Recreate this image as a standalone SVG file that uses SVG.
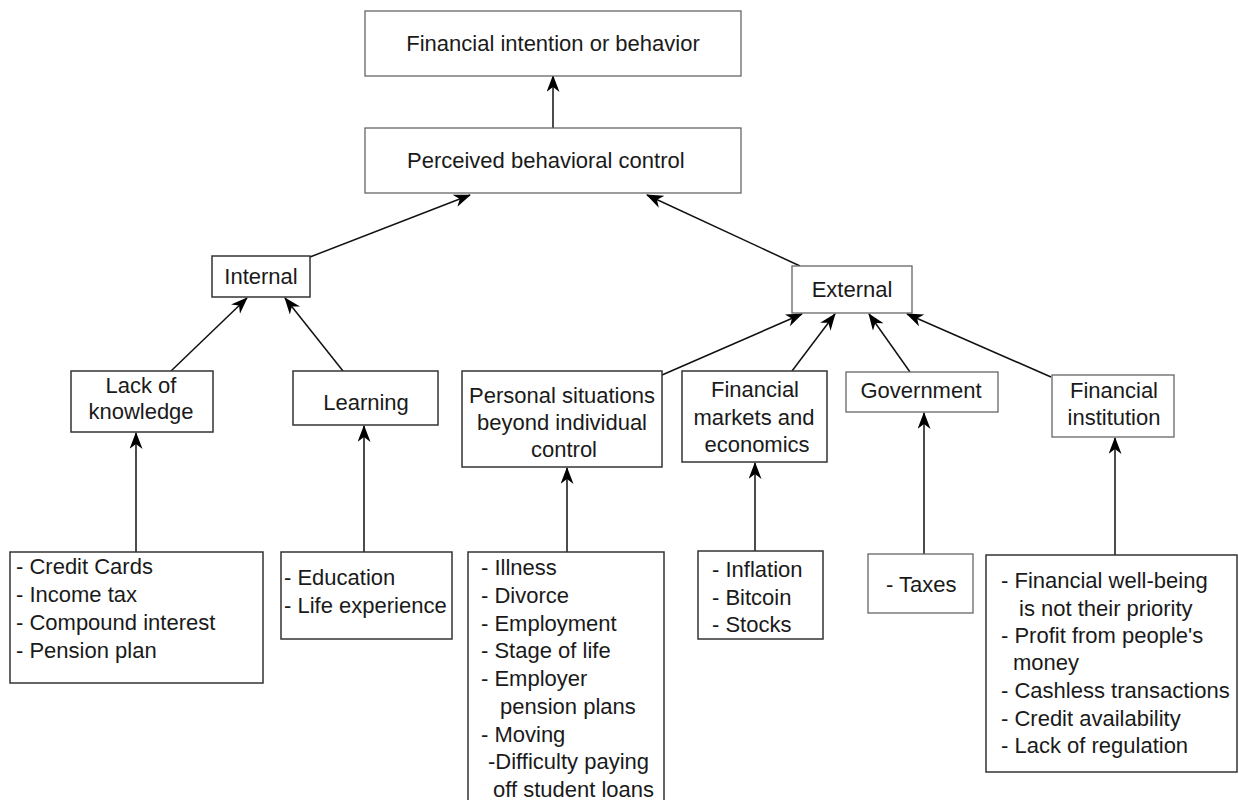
<svg xmlns="http://www.w3.org/2000/svg" width="1239" height="800" viewBox="0 0 1239 800">
<defs>
<marker id="ah" markerUnits="userSpaceOnUse" markerWidth="18" markerHeight="14" refX="16" refY="6.5" orient="auto">
<path d="M0,0 L17,6.5 L0,13 L5,6.5 z" fill="#000"/>
</marker>
<style>
.box{fill:#fff;stroke:#333;stroke-width:1.5}
.lbox{fill:#fff;stroke:#666;stroke-width:1.3}
text{font-family:"Liberation Sans",Arial,sans-serif;font-size:22px;fill:#1a1a1a}
.c{text-anchor:middle}
.edge{stroke:#111;stroke-width:1.5;fill:none;marker-end:url(#ah)}
</style>
</defs>
<rect width="1239" height="800" fill="#fff"/>
<g id="connectors">
<line class="edge" x1="553" y1="128" x2="553" y2="76"/>
<line class="edge" x1="310" y1="257" x2="470" y2="195"/>
<line class="edge" x1="800" y1="266" x2="647" y2="195"/>
<line class="edge" x1="171" y1="371" x2="247" y2="298"/>
<line class="edge" x1="343" y1="371" x2="285" y2="298"/>
<line class="edge" x1="662" y1="375" x2="802" y2="314"/>
<line class="edge" x1="792" y1="371" x2="835" y2="314"/>
<line class="edge" x1="910" y1="372" x2="869" y2="314"/>
<line class="edge" x1="1051" y1="377" x2="907" y2="314"/>
<line class="edge" x1="136" y1="552" x2="136" y2="433"/>
<line class="edge" x1="364" y1="552" x2="364" y2="426"/>
<line class="edge" x1="567" y1="552" x2="567" y2="468"/>
<line class="edge" x1="755" y1="551" x2="755" y2="463"/>
<line class="edge" x1="924" y1="554" x2="924" y2="413"/>
<line class="edge" x1="1115" y1="555" x2="1115" y2="438"/>
</g>
<g id="intention">
<rect class="lbox" x="365" y="11" width="376" height="65"/>
<text class="c" x="553" y="51">Financial intention or behavior</text>
</g>
<g id="pbc">
<rect class="lbox" x="365" y="128" width="376" height="65"/>
<text x="407" y="168">Perceived behavioral control</text>
</g>
<g id="internal">
<rect class="box" x="212" y="256" width="98" height="41"/>
<text class="c" x="261" y="284">Internal</text>
</g>
<g id="external">
<rect class="lbox" x="792" y="266" width="120" height="47"/>
<text class="c" x="852" y="297">External</text>
</g>
<g id="lack">
<rect class="box" x="71" y="371" width="142" height="61"/>
<text class="c" x="141" y="393">Lack of</text>
<text class="c" x="141" y="419">knowledge</text>
</g>
<g id="learning">
<rect class="box" x="293" y="371" width="145" height="54"/>
<text class="c" x="366" y="410">Learning</text>
</g>
<g id="personal">
<rect class="box" x="462" y="371" width="200" height="96"/>
<text class="c" x="562" y="403">Personal situations</text>
<text class="c" x="562" y="430">beyond individual</text>
<text class="c" x="564" y="457">control</text>
</g>
<g id="markets">
<rect class="box" x="682" y="371" width="145" height="91"/>
<text class="c" x="755" y="397">Financial</text>
<text class="c" x="754" y="425">markets and</text>
<text class="c" x="757" y="452">economics</text>
</g>
<g id="government">
<rect class="lbox" x="846" y="372" width="152" height="40"/>
<text class="c" x="921" y="398">Government</text>
</g>
<g id="institution">
<rect class="lbox" x="1052" y="375" width="122" height="62"/>
<text class="c" x="1114" y="398">Financial</text>
<text class="c" x="1114" y="425">institution</text>
</g>
<g id="lack-list">
<rect class="box" x="10" y="552" width="253" height="131"/>
<text x="16" y="574">- Credit Cards</text>
<text x="16" y="602">- Income tax</text>
<text x="16" y="630">- Compound interest</text>
<text x="16" y="658">- Pension plan</text>
</g>
<g id="learning-list">
<rect class="box" x="281" y="552" width="171" height="87"/>
<text x="284" y="585">- Education</text>
<text x="284" y="613">- Life experience</text>
</g>
<g id="personal-list">
<rect class="box" x="468" y="552" width="196" height="260"/>
<text x="481" y="575">- Illness</text>
<text x="481" y="603">- Divorce</text>
<text x="481" y="631">- Employment</text>
<text x="481" y="658">- Stage of life</text>
<text x="481" y="686">- Employer</text>
<text x="500" y="714">pension plans</text>
<text x="481" y="742">- Moving</text>
<text x="488" y="769">-Difficulty paying</text>
<text x="493" y="797">off student loans</text>
</g>
<g id="markets-list">
<rect class="box" x="698" y="551" width="125" height="88"/>
<text x="712" y="577">- Inflation</text>
<text x="712" y="605">- Bitcoin</text>
<text x="712" y="632">- Stocks</text>
</g>
<g id="taxes-list">
<rect class="lbox" x="868" y="554" width="105" height="59"/>
<text x="886" y="592">- Taxes</text>
</g>
<g id="institution-list">
<rect class="box" x="986" y="555" width="251" height="217"/>
<text x="1001" y="588">- Financial well-being</text>
<text x="1019" y="616">is not their priority</text>
<text x="1001" y="643">- Profit from people's</text>
<text x="1013" y="670">money</text>
<text x="1001" y="698">- Cashless transactions</text>
<text x="1001" y="726">- Credit availability</text>
<text x="1001" y="753">- Lack of regulation</text>
</g>
</svg>
